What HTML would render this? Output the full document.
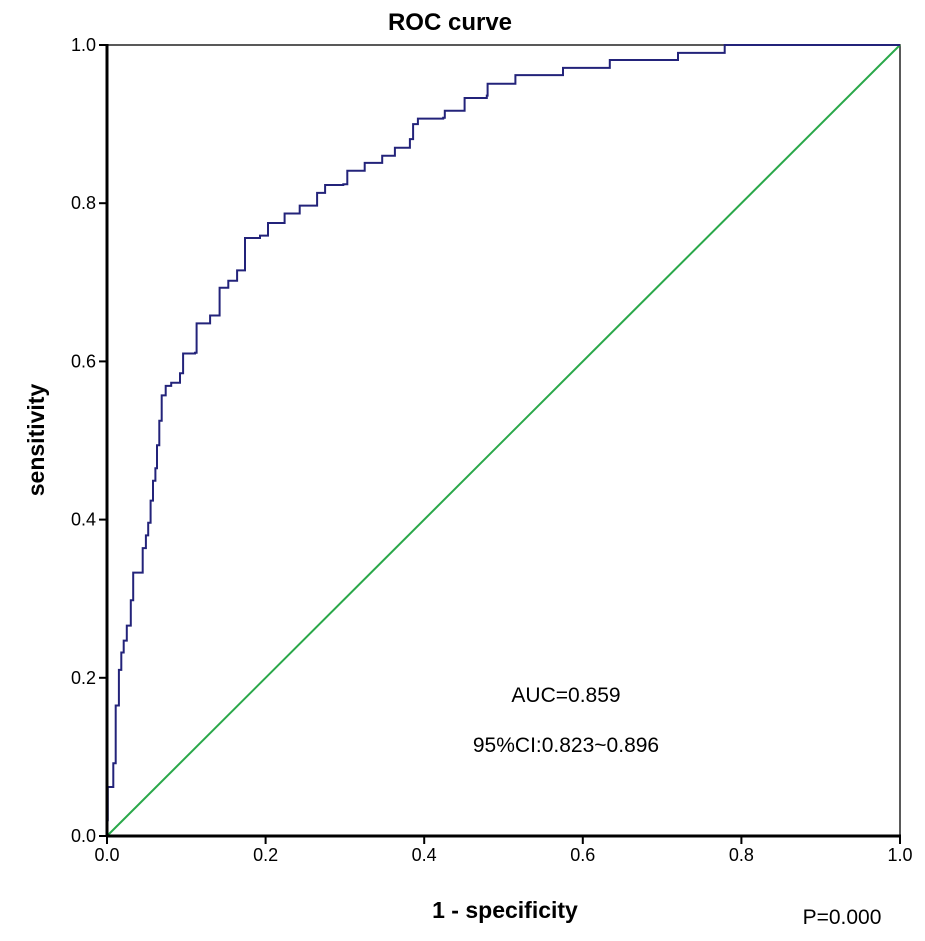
<!DOCTYPE html>
<html><head><meta charset="utf-8"><style>
html,body{margin:0;padding:0;background:#fff;}
svg{display:block;font-family:"Liberation Sans",Arial,sans-serif;}
</style></head><body>
<svg id="chart" width="925" height="941" viewBox="0 0 925 941">
<text x="450" y="30" font-size="24" font-weight="bold" text-anchor="middle">ROC curve</text>
<rect x="107" y="45" width="793" height="791" fill="none" stroke="#222" stroke-width="1.5"/>
<g id="ticks"></g>
<line id="diag" stroke="#2aa84a" stroke-width="2"/>
<path id="roc" fill="none" stroke="#23237a" stroke-width="2"/>
<line x1="106" y1="836" x2="901" y2="836" stroke="#000" stroke-width="3"/>
<line x1="107" y1="44" x2="107" y2="837" stroke="#000" stroke-width="3"/>
<text x="505" y="918" font-size="23" font-weight="bold" text-anchor="middle">1 - specificity</text>
<text transform="translate(44,440) rotate(-90)" font-size="23" font-weight="bold" text-anchor="middle">sensitivity</text>
<text x="566" y="702" font-size="21" text-anchor="middle">AUC=0.859</text>
<text x="566" y="752" font-size="21" text-anchor="middle">95%CI:0.823~0.896</text>
<text x="842" y="924" font-size="21" text-anchor="middle">P=0.000</text>
</svg>
<script>
const fpr=[0,0,0.001,0.008,0.011,0.015,0.018,0.021,0.025,0.030,0.033,0.043,0.045,0.049,0.052,0.055,0.058,0.061,0.063,0.066,0.069,0.074,0.081,0.092,0.096,0.111,0.113,0.130,0.142,0.153,0.164,0.174,0.193,0.203,0.224,0.243,0.265,0.275,0.298,0.303,0.325,0.347,0.363,0.382,0.386,0.392,0.424,0.426,0.451,0.479,0.480,0.515,0.575,0.634,0.720,0.779,1];
const tpr=[0,0.020,0.062,0.092,0.165,0.210,0.232,0.247,0.266,0.298,0.333,0.333,0.364,0.380,0.396,0.424,0.449,0.465,0.494,0.525,0.557,0.569,0.573,0.585,0.610,0.611,0.648,0.658,0.693,0.702,0.715,0.756,0.759,0.775,0.787,0.797,0.813,0.823,0.824,0.841,0.851,0.860,0.870,0.881,0.900,0.907,0.908,0.917,0.933,0.936,0.951,0.962,0.971,0.981,0.990,1,1];
const xTicks=[0,0.2,0.4,0.6,0.8,1];
const xTickLabels=["0.0","0.2","0.4","0.6","0.8","1.0"];
const yTicks=[0,0.2,0.4,0.6,0.8,1];
const yTickLabels=["0.0","0.2","0.4","0.6","0.8","1.0"];
const X0=107,X1=900,Y0=836,Y1=45;
function sx(v){return X0+v*(X1-X0);}
function sy(v){return Y0-v*(Y0-Y1);}
const NS="http://www.w3.org/2000/svg";
const g=document.getElementById('ticks');
xTicks.forEach((t,i)=>{
  const l=document.createElementNS(NS,'line');
  
  
  l.setAttribute('x1',sx(t));l.setAttribute('x2',sx(t));l.setAttribute('y1',Y0);l.setAttribute('y2',Y0+8);
  l.setAttribute('stroke','#000');l.setAttribute('stroke-width','2');g.appendChild(l);
  const tx=document.createElementNS(NS,'text');
  
  
  tx.setAttribute('x',sx(t));tx.setAttribute('y',Y0+25);tx.setAttribute('font-size','18');tx.setAttribute('text-anchor','middle');
  tx.textContent=xTickLabels[i];g.appendChild(tx);
});
yTicks.forEach((t,i)=>{
  const l=document.createElementNS(NS,'line');
  
  
  l.setAttribute('x1',X0-8);l.setAttribute('x2',X0);l.setAttribute('y1',sy(t));l.setAttribute('y2',sy(t));
  l.setAttribute('stroke','#000');l.setAttribute('stroke-width','2');g.appendChild(l);
  const tx=document.createElementNS(NS,'text');
  
  
  tx.setAttribute('x',X0-11);tx.setAttribute('y',sy(t)+6);tx.setAttribute('font-size','18');tx.setAttribute('text-anchor','end');
  tx.textContent=yTickLabels[i];g.appendChild(tx);
});
const d=document.getElementById('diag');
d.setAttribute('x1',sx(0));d.setAttribute('y1',sy(0));d.setAttribute('x2',sx(1));d.setAttribute('y2',sy(1));
let p='M'+sx(fpr[0])+' '+sy(tpr[0]);
for(let i=1;i<fpr.length;i++){p+=' H'+sx(fpr[i]).toFixed(1)+' V'+sy(tpr[i]).toFixed(1);}
document.getElementById('roc').setAttribute('d',p);
</script>
</body></html>
